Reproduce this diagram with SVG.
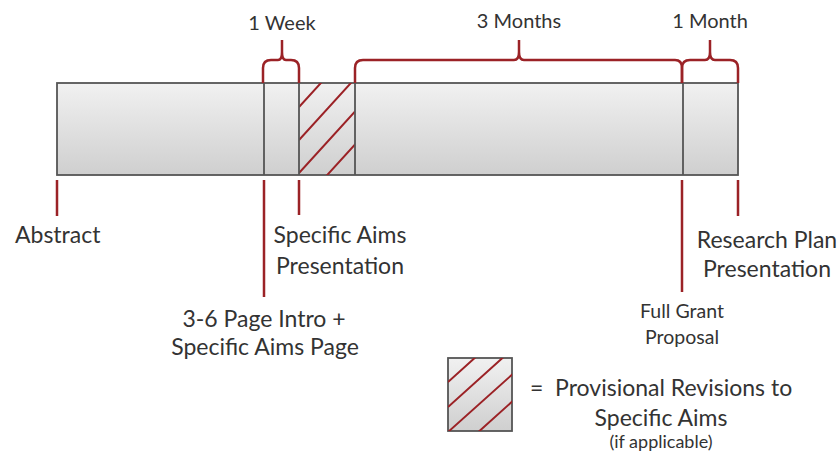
<svg xmlns="http://www.w3.org/2000/svg" width="839" height="455" viewBox="0 0 839 455">
<defs>
<linearGradient id="g" x1="0" y1="0" x2="0" y2="1">
<stop offset="0" stop-color="#f1f1f1"/>
<stop offset="1" stop-color="#cfcfcf"/>
</linearGradient>
<clipPath id="hc"><rect x="299" y="83" width="56" height="92"/></clipPath>
<clipPath id="lc"><rect x="448" y="358" width="64" height="73"/></clipPath>
<style>
.bar{fill:url(#g);stroke:#555;stroke-width:1.8}
.div{stroke:#555;stroke-width:1.8;fill:none}
.red{stroke:#9b2226;stroke-width:2.5;fill:none}
.hatch{stroke:#9b2226;stroke-width:2;fill:none}
.t{font-family:Lato,"Open Sans",sans-serif;font-size:20px;fill:#333}
.m{font-family:Lato,"Open Sans",sans-serif;font-size:23px;fill:#333}
.f{font-family:Lato,"Open Sans",sans-serif;font-size:19.5px;fill:#333}
.s{font-family:Lato,"Open Sans",sans-serif;font-size:18px;fill:#333}
</style>
</defs>
<rect width="839" height="455" fill="#fff"/>
<g id="timeline">
<rect class="bar" x="57" y="83" width="681" height="92"/>
<g clip-path="url(#hc)">
<path class="hatch" d="M299 107 L 330 73 M299 140 L 360 73 M299 173 L 360 106 M299 206 L 360 139"/>
</g>
<path class="div" d="M264 83 V175 M299 83 V175 M355 83 V175 M683 83 V175"/>
</g>
<g id="braces">
<path class="red" d="M263 83 V68 Q263 60 271 60 H278 Q282 60 282 52 V40 M282 52 Q282 60 286 60 H291 Q299 60 299 68 V83"/>
<text class="t" x="282" y="30" text-anchor="middle">1 Week</text>
<path class="red" d="M355 83 V68 Q355 60 363 60 H514 Q519 60 519 52 V40 M519 52 Q519 60 524 60 H675 Q682 60 682 68 V83"/>
<text class="t" x="519" y="28" text-anchor="middle">3 Months</text>
<path class="red" d="M682 83 V68 Q682 60 690 60 H705 Q710 60 710 52 V40 M710 52 Q710 60 715 60 H730 Q738 60 738 68 V83"/>
<text class="t" x="710" y="28" text-anchor="middle">1 Month</text>
</g>
<g id="connectors">
<path class="red" d="M57 180 V216 M264 180 V297 M299 180 V215 M682 180 V292 M738 180 V216"/>
</g>
<g id="abstract"><text class="m" x="15" y="243">Abstract</text></g>
<g id="intro"><text class="m" x="264" y="327" text-anchor="middle">3-6 Page Intro +</text><text class="m" x="265" y="355" text-anchor="middle">Specific Aims Page</text></g>
<g id="aims"><text class="m" x="340" y="243" text-anchor="middle">Specific Aims</text><text class="m" x="340" y="274" text-anchor="middle">Presentation</text></g>
<g id="fullgrant"><text class="f" x="682" y="318" text-anchor="middle">Full Grant</text><text class="f" x="682" y="344" text-anchor="middle">Proposal</text></g>
<g id="research"><text class="m" x="767" y="248" text-anchor="middle">Research Plan</text><text class="m" x="767" y="277" text-anchor="middle">Presentation</text></g>
<g id="legend">
<rect x="448" y="358" width="64" height="73" fill="url(#g)" stroke="#555" stroke-width="1.8"/>
<g clip-path="url(#lc)">
<path class="hatch" d="M448 382 L 478 355 M448 407 L 508 353 M448 432 L 515 372 M475 435 L 515 399"/>
</g>
<text class="m" x="530" y="396" xml:space="preserve">=  Provisional Revisions to</text>
<text class="m" x="661" y="426" text-anchor="middle">Specific Aims</text>
<text class="s" x="661" y="448" text-anchor="middle">(if applicable)</text>
</g>
</svg>
